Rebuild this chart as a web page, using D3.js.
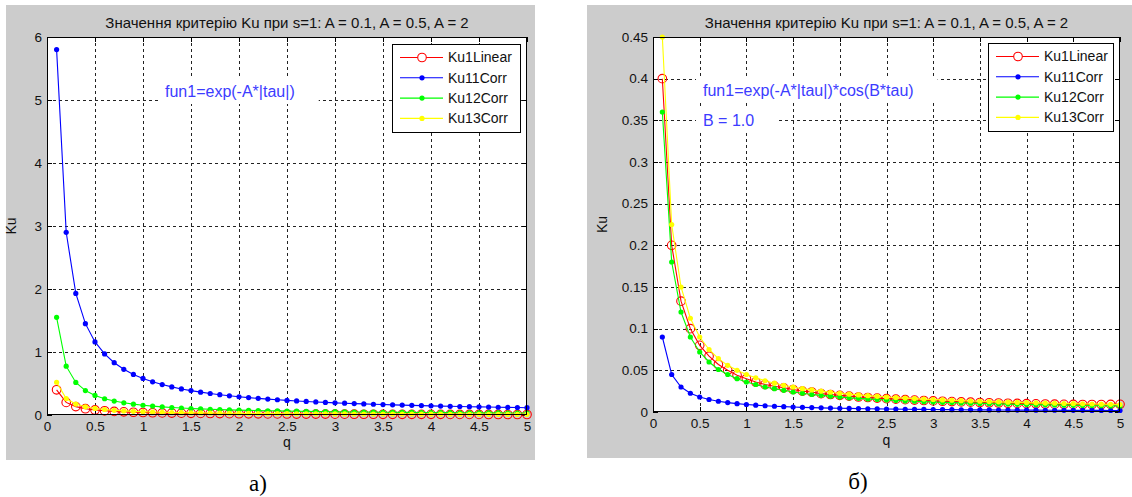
<!DOCTYPE html>
<html><head><meta charset="utf-8">
<script src="https://cdn.jsdelivr.net/npm/d3@7"></script>
<style>
html,body{margin:0;padding:0;background:#fff;}
svg{display:block;font-family:"Liberation Sans",Arial,sans-serif;}
</style></head>
<body>
<svg id="c" width="1132" height="497"></svg>
<script>
const q = [0.1,0.2,0.3,0.4,0.5,0.6,0.7,0.8,0.9,1.0,1.1,1.2,1.3,1.4,1.5,1.6,1.7,1.8,1.9,2.0,2.1,2.2,2.3,2.4,2.5,2.6,2.7,2.8,2.9,3.0,3.1,3.2,3.3,3.4,3.5,3.6,3.7,3.8,3.9,4.0,4.1,4.2,4.3,4.4,4.5,4.6,4.7,4.8,4.9,5.0];
const seriesNames = ["Ku1Linear","Ku11Corr","Ku12Corr","Ku13Corr"];
const xTicks = [0,0.5,1,1.5,2,2.5,3,3.5,4,4.5,5];
const yTicksA = [0,1,2,3,4,5,6];
const yTicksB = [0,0.05,0.1,0.15,0.2,0.25,0.3,0.35,0.4,0.45];
const titleText = "Значення критерію Ku при s=1: A = 0.1, A = 0.5, A = 2";

// Panel a) fun1=exp(-A*|tau|)
const a_Ku1Linear = [0.40,0.20,0.133,0.10,0.08,0.067,0.057,0.05,0.044,0.04,0.036,0.033,0.031,0.029,0.027,0.025,0.024,0.022,0.021,0.02,0.019,0.018,0.017,0.017,0.016,0.015,0.015,0.014,0.014,0.013,0.013,0.0125,0.012,0.012,0.011,0.011,0.011,0.0105,0.010,0.010,0.010,0.0095,0.0093,0.0091,0.0089,0.0087,0.0085,0.0083,0.0082,0.008];
const a_Ku11Corr = [5.80,2.90,1.93,1.45,1.16,0.97,0.83,0.725,0.644,0.58,0.527,0.483,0.446,0.414,0.387,0.363,0.341,0.322,0.305,0.29,0.276,0.264,0.252,0.242,0.232,0.223,0.215,0.207,0.20,0.193,0.187,0.181,0.176,0.171,0.166,0.161,0.157,0.153,0.149,0.145,0.141,0.138,0.135,0.132,0.129,0.126,0.123,0.121,0.118,0.116];
const a_Ku12Corr = [1.55,0.775,0.517,0.388,0.31,0.258,0.221,0.194,0.172,0.155,0.141,0.129,0.119,0.111,0.103,0.097,0.091,0.086,0.082,0.078,0.074,0.070,0.067,0.065,0.062,0.060,0.057,0.055,0.053,0.052,0.050,0.048,0.047,0.046,0.044,0.043,0.042,0.041,0.040,0.039,0.038,0.037,0.036,0.035,0.034,0.034,0.033,0.032,0.032,0.031];
const a_Ku13Corr = [0.52,0.26,0.173,0.13,0.104,0.087,0.074,0.065,0.058,0.052,0.047,0.043,0.04,0.037,0.035,0.033,0.031,0.029,0.027,0.026,0.025,0.024,0.023,0.022,0.021,0.020,0.019,0.019,0.018,0.017,0.017,0.016,0.016,0.015,0.015,0.014,0.014,0.014,0.013,0.013,0.013,0.012,0.012,0.012,0.012,0.011,0.011,0.011,0.011,0.010];

// Panel б) fun1=exp(-A*|tau|)*cos(B*tau), B = 1.0
const b_Ku1Linear = [0.40,0.20,0.133,0.10,0.08,0.067,0.057,0.05,0.044,0.04,0.036,0.033,0.031,0.029,0.027,0.025,0.024,0.022,0.021,0.02,0.019,0.018,0.0174,0.0167,0.016,0.0154,0.0148,0.0143,0.0138,0.0133,0.0129,0.0125,0.0121,0.0118,0.0114,0.0111,0.0108,0.0105,0.0103,0.010,0.0098,0.0096,0.0094,0.0092,0.0091,0.0090,0.0090,0.0090,0.0091,0.0092];
const b_Ku11Corr = [0.09,0.045,0.03,0.0225,0.018,0.015,0.0129,0.0113,0.010,0.009,0.0082,0.0075,0.0069,0.0064,0.006,0.0056,0.0053,0.005,0.0047,0.0045,0.0043,0.0041,0.0039,0.0038,0.0036,0.0035,0.0033,0.0032,0.0031,0.003,0.0029,0.0028,0.0027,0.0026,0.0026,0.0025,0.0024,0.0024,0.0023,0.0023,0.0022,0.0021,0.0021,0.002,0.002,0.002,0.0019,0.0019,0.0018,0.0018];
const b_Ku12Corr = [0.36,0.18,0.12,0.09,0.072,0.06,0.051,0.045,0.04,0.036,0.033,0.03,0.028,0.026,0.024,0.0225,0.021,0.02,0.019,0.018,0.017,0.0164,0.0157,0.015,0.0144,0.0138,0.0133,0.0129,0.0124,0.012,0.0116,0.0113,0.0109,0.0106,0.0103,0.010,0.0097,0.0095,0.0092,0.009,0.0088,0.0086,0.0084,0.0082,0.008,0.0078,0.0077,0.0075,0.0073,0.0072];
const b_Ku13Corr = [0.45,0.225,0.15,0.1125,0.09,0.075,0.064,0.056,0.05,0.045,0.041,0.0375,0.0346,0.032,0.03,0.028,0.0265,0.025,0.0237,0.0225,0.0214,0.0205,0.0196,0.0188,0.018,0.0173,0.0167,0.0161,0.0155,0.015,0.0145,0.0141,0.0136,0.0132,0.0129,0.0125,0.0122,0.0118,0.0115,0.0113,0.011,0.0107,0.0105,0.0102,0.010,0.0098,0.0096,0.0094,0.0092,0.009];

const colors = ["#ff0000","#0000ff","#00ff00","#ffff00"];
const annoColor = "#3c3cff";

const svg = d3.select("#c");

function drawPanel(cfg){
  const g = svg.append("g");
  g.append("rect").attr("x",cfg.panel[0]).attr("y",cfg.panel[1]).attr("width",cfg.panel[2]).attr("height",cfg.panel[3]).attr("fill","#cccccc");
  const L=cfg.ax[0],T=cfg.ax[1],R=cfg.ax[2],B=cfg.ax[3];
  const x = d3.scaleLinear().domain([0,5]).range([L,R]);
  const y = d3.scaleLinear().domain(cfg.yDomain).range([B,T]);
  g.append("rect").attr("x",L).attr("y",T).attr("width",R-L).attr("height",B-T).attr("fill","#fff");
  // grid
  const grid = g.append("g").attr("stroke","#222").attr("stroke-width",1).attr("stroke-dasharray","3,3").attr("shape-rendering","crispEdges");
  xTicks.slice(1,-1).forEach(t=>grid.append("line").attr("x1",Math.round(x(t))+0.5).attr("x2",Math.round(x(t))+0.5).attr("y1",T).attr("y2",B));
  cfg.yTicks.slice(1,-1).forEach(t=>grid.append("line").attr("y1",Math.round(y(t))+0.5).attr("y2",Math.round(y(t))+0.5).attr("x1",L).attr("x2",R));
  // annotations with white background
  cfg.annos.forEach(a=>{
    const tg = g.append("g");
    const txt = tg.append("text").attr("x",a.x).attr("y",a.y).attr("dy","0.35em").attr("font-size",16).attr("fill",annoColor).text(a.t);
    const w = txt.node().getComputedTextLength();
    tg.insert("rect","text").attr("x",a.x-7).attr("y",a.y-13).attr("width",w+7+a.pr).attr("height",26).attr("fill","#fff");
  });
  // axes via d3 axis (labels), plus box ticks
  const axB = d3.axisBottom(x).tickValues(xTicks).tickSize(0).tickPadding(6).tickFormat(d3.format("~g"));
  const gx = g.append("g").attr("transform",`translate(0,${B})`).call(axB);
  gx.select(".domain").remove();
  gx.selectAll("text").attr("font-size",13.5).attr("fill","#111").attr("font-family","Liberation Sans, Arial, sans-serif");
  const axL = d3.axisLeft(y).tickValues(cfg.yTicks).tickSize(0).tickPadding(5).tickFormat(d3.format("~g"));
  const gy = g.append("g").attr("transform",`translate(${L},0)`).call(axL);
  gy.select(".domain").remove();
  gy.selectAll("text").attr("font-size",13.5).attr("fill","#111").attr("font-family","Liberation Sans, Arial, sans-serif");
  const tk = g.append("g").attr("stroke","#000").attr("stroke-width",1).attr("shape-rendering","crispEdges");
  xTicks.forEach(t=>{const px=Math.round(x(t))+0.5;
    tk.append("line").attr("x1",px).attr("x2",px).attr("y1",B).attr("y2",B-5);
    tk.append("line").attr("x1",px).attr("x2",px).attr("y1",T).attr("y2",T+5);});
  cfg.yTicks.forEach(t=>{const py=Math.round(y(t))+0.5;
    tk.append("line").attr("y1",py).attr("y2",py).attr("x1",L).attr("x2",L+5);
    tk.append("line").attr("y1",py).attr("y2",py).attr("x1",R).attr("x2",R-5);});
  // series
  const clipId = "clip"+cfg.id;
  svg.append("clipPath").attr("id",clipId).append("rect").attr("x",L-6).attr("y",T-6).attr("width",R-L+12).attr("height",B-T+12);
  const sg = g.append("g").attr("clip-path",`url(#${clipId})`);
  const line = d3.line().x((d,i)=>x(q[i])).y(d=>y(d));
  cfg.series.forEach((s,k)=>{
    sg.append("path").datum(s).attr("d",line).attr("fill","none").attr("stroke",colors[k]).attr("stroke-width",1.1);
    if(k===0){
      sg.selectAll(null).data(s).enter().append("circle").attr("cx",(d,i)=>x(q[i])).attr("cy",d=>y(d)).attr("r",4.3).attr("fill","none").attr("stroke",colors[k]).attr("stroke-width",1.1);
    } else {
      sg.selectAll(null).data(s).enter().append("circle").attr("cx",(d,i)=>x(q[i])).attr("cy",d=>y(d)).attr("r",2.6).attr("fill",colors[k]);
    }
  });
  // box
  g.append("rect").attr("x",L+0.5).attr("y",T+0.5).attr("width",R-L-1).attr("height",B-T-1).attr("fill","none").attr("stroke","#000").attr("shape-rendering","crispEdges");
  // title & labels
  g.append("text").attr("x",(L+R)/2).attr("y",cfg.titleY).attr("text-anchor","middle").attr("font-size",15).attr("fill","#111").text(titleText);
  g.append("text").attr("x",(L+R)/2).attr("y",cfg.qY).attr("text-anchor","middle").attr("font-size",14).attr("fill","#111").text("q");
  g.append("text").attr("transform",`translate(${cfg.kuX},${(T+B)/2}) rotate(-90)`).attr("text-anchor","middle").attr("font-size",14).attr("fill","#111").text("Ku");
  // legend
  const lg = cfg.legend;
  g.append("rect").attr("x",lg.x+0.5).attr("y",lg.y+0.5).attr("width",lg.w).attr("height",lg.h).attr("fill","#fff").attr("stroke","#000").attr("shape-rendering","crispEdges");
  seriesNames.forEach((n,k)=>{
    const yy = lg.y + 13.5 + k*20.3;
    g.append("line").attr("x1",lg.x+8).attr("x2",lg.x+51).attr("y1",yy).attr("y2",yy).attr("stroke",colors[k]).attr("stroke-width",1.1);
    if(k===0) g.append("circle").attr("cx",lg.x+30).attr("cy",yy).attr("r",4.3).attr("fill","#fff").attr("stroke",colors[k]).attr("stroke-width",1.1);
    else g.append("circle").attr("cx",lg.x+30).attr("cy",yy).attr("r",2.6).attr("fill",colors[k]);
    g.append("text").attr("x",lg.x+56).attr("y",yy).attr("dy","0.35em").attr("font-size",14).attr("fill","#111").text(n);
  });
  // sub-caption
  g.append("text").attr("x",cfg.cap[0]).attr("y",cfg.cap[1]).attr("text-anchor","middle").attr("font-family","Liberation Serif, Times New Roman, serif").attr("font-size",23).attr("fill","#000").text(cfg.cap[2]);
}

drawPanel({id:"a",panel:[6,5,529,455],ax:[47,37,527,415],yDomain:[0,6],yTicks:yTicksA,
  series:[a_Ku1Linear,a_Ku11Corr,a_Ku12Corr,a_Ku13Corr],
  annos:[{x:165,y:91,t:"fun1=exp(-A*|tau|)",pr:24}],
  titleY:28,qY:447,kuX:16,legend:{x:392,y:44,w:128,h:88},cap:[258,491,"а)"]});
drawPanel({id:"b",panel:[587,5,545,453],ax:[653,37,1120,412],yDomain:[0,0.45],yTicks:yTicksB,
  series:[b_Ku1Linear,b_Ku11Corr,b_Ku12Corr,b_Ku13Corr],
  annos:[{x:703,y:90,t:"fun1=exp(-A*|tau|)*cos(B*tau)",pr:24},{x:703,y:120,t:"B = 1.0",pr:24}],
  titleY:28,qY:445,kuX:607,legend:{x:988,y:43,w:125,h:88},cap:[858,489,"б)"]});
</script>
</body></html>
